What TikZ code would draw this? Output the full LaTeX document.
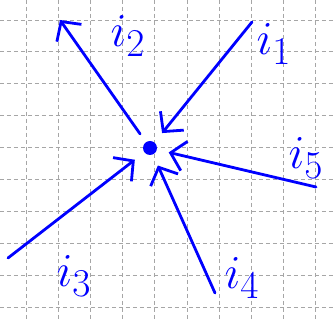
\documentclass[tikz,border=0pt]{standalone}
\usepackage{amsmath}
\usepackage{tikz}
\usetikzlibrary{arrows.meta}

\newcommand{\curname}[1]{\scalebox{1.9}{$i_{#1}$}}

\tikzset{
  gridline/.style={gray!70, line width=0.9pt, dash pattern=on 4pt off 3pt},
  wire/.style={blue, line width=2.8pt, line cap=round, line join=round},
  inwire/.style={wire, -{Straight Barb[length=14pt,width=30pt]}, shorten >=12pt},
  outwire/.style={wire, -{Straight Barb[length=14pt,width=30pt]}, shorten <=10pt},
  curlabel/.style={blue, font=\Huge, inner sep=0pt}
}

\begin{document}
\begin{tikzpicture}[x=1pt,y=-1pt]
\useasboundingbox (0,0) rectangle (333,320);
\fill[white] (0,0) rectangle (333,320);
% grid paper
\foreach \k in {0,...,9} {
  \draw[gridline] ({26+32.2*\k},0) -- ({26+32.2*\k},320);
  \draw[gridline] (0,{20+31.9*\k}) -- (333,{20+31.9*\k});
}
% junction
\node[circle, fill=blue, inner sep=0pt, minimum size=14pt] (c) at (150,148) {};
\coordinate (e1) at (252,22);
\coordinate (e2) at (60,20);
\coordinate (e3) at (8,258);
\coordinate (e4) at (215,293);
\coordinate (e5) at (316,187);
% currents
\draw[inwire] (e1) -- (c);
\draw[outwire] (c) -- (e2);
\draw[inwire] (e3) -- (c);
\draw[inwire] (e4) -- (c);
\draw[inwire] (e5) -- (c);
% labels
\node[curlabel] (l1) at (274,44) {\curname{1}};
\node[curlabel] (l2) at (128,36) {\curname{2}};
\node[curlabel] (l3) at (74,276) {\curname{3}};
\node[curlabel] (l4) at (242,278) {\curname{4}};
\node[curlabel] (l5) at (306,158) {\curname{5}};
\end{tikzpicture}
\end{document}
